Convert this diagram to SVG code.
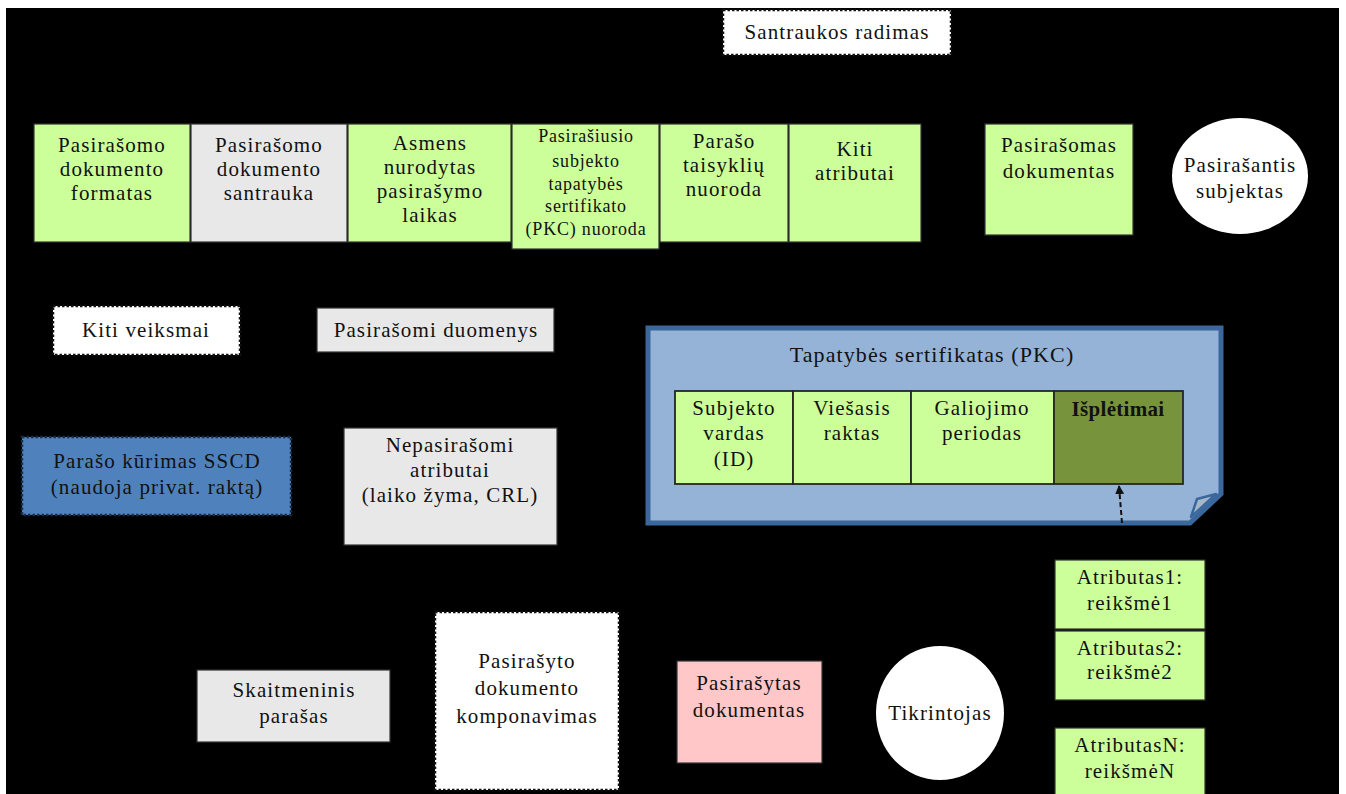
<svg xmlns="http://www.w3.org/2000/svg" width="1346" height="794" viewBox="0 0 1346 794">
  <style>
    text { font-family: "Liberation Serif", "Times New Roman", serif; font-size: 21px; fill: #111; text-anchor: middle; letter-spacing: 1.1px; }
    .small { font-size: 18px; letter-spacing: 0.8px; }
    .bold { font-weight: bold; letter-spacing: 0.3px; }
    .box { stroke: #333; stroke-width: 1.2; }
    .green { fill: #ccff99; }
    .grey { fill: #e8e8e8; }
    .pink { fill: #ffc7c7; }
    .dash { fill: #ffffff; stroke: #111; stroke-width: 2.5; stroke-dasharray: 2.5 2; }
    .ell { fill: #ffffff; }
    .cell { stroke: #262626; stroke-width: 1.8; }
  </style>
  <defs>
    <marker id="arrow" viewBox="0 0 10 10" refX="9" refY="5" markerWidth="4.5" markerHeight="4.5" orient="auto">
      <path d="M0,0 L10,5 L0,10 Z" fill="#111"/>
    </marker>
  </defs>

  <!-- canvas -->
  <rect x="0" y="0" width="1346" height="794" fill="#ffffff"/>
  <rect x="6" y="8" width="1333" height="786" fill="#000000"/>

  <g id="santraukos-radimas">
    <rect class="dash" x="723" y="10" width="228" height="45"/>
    <text x="837" y="39">Santraukos radimas</text>
  </g>

  <g id="dok-formatas">
    <rect class="box green" x="34" y="124" width="156" height="118"/>
    <text x="112" y="152">Pasirašomo</text>
    <text x="112" y="176">dokumento</text>
    <text x="112" y="200">formatas</text>
  </g>
  <g id="dok-santrauka">
    <rect class="box grey" x="191" y="124" width="156" height="118"/>
    <text x="269" y="152">Pasirašomo</text>
    <text x="269" y="176">dokumento</text>
    <text x="269" y="200">santrauka</text>
  </g>
  <g id="pasirasymo-laikas">
    <rect class="box green" x="348" y="124" width="163" height="118"/>
    <text x="430" y="150">Asmens</text>
    <text x="430" y="174">nurodytas</text>
    <text x="430" y="198">pasirašymo</text>
    <text x="430" y="222">laikas</text>
  </g>
  <g id="pkc-nuoroda">
    <rect class="box green" x="512" y="124" width="147" height="125"/>
    <text class="small" x="586" y="142">Pasirašiusio</text>
    <text class="small" x="586" y="167">subjekto</text>
    <text class="small" x="586" y="190">tapatybės</text>
    <text class="small" x="586" y="212">sertifikato</text>
    <text class="small" x="586" y="235">(PKC) nuoroda</text>
  </g>
  <g id="taisykliu-nuoroda">
    <rect class="box green" x="660" y="124" width="128" height="118"/>
    <text x="724" y="148">Parašo</text>
    <text x="724" y="172">taisyklių</text>
    <text x="724" y="196">nuoroda</text>
  </g>
  <g id="kiti-atributai">
    <rect class="box green" x="789" y="124" width="132" height="118"/>
    <text x="855" y="156">Kiti</text>
    <text x="855" y="180">atributai</text>
  </g>

  <g id="pasirasomas-dokumentas">
    <rect class="box green" x="985" y="124" width="148" height="111"/>
    <text x="1059" y="152">Pasirašomas</text>
    <text x="1059" y="178">dokumentas</text>
  </g>
  <g id="pasirasantis-subjektas">
    <ellipse class="ell" cx="1240" cy="176" rx="68" ry="58"/>
    <text x="1240" y="172">Pasirašantis</text>
    <text x="1240" y="198">subjektas</text>
  </g>

  <g id="kiti-veiksmai">
    <rect class="dash" x="53" y="306" width="187" height="49"/>
    <text x="146" y="337">Kiti veiksmai</text>
  </g>
  <g id="pasirasomi-duomenys">
    <rect class="box grey" x="317" y="308" width="237" height="44"/>
    <text x="436" y="337">Pasirašomi duomenys</text>
  </g>

  <g id="sscd">
    <rect x="22" y="437" width="269" height="78" fill="#4f81bd" stroke="#1a2d45" stroke-width="2.5" stroke-dasharray="2.5 2"/>
    <text x="157" y="468">Parašo kūrimas SSCD</text>
    <text x="157" y="494">(naudoja privat. raktą)</text>
  </g>
  <g id="nepasirasomi-atributai">
    <rect class="box grey" x="344" y="428" width="213" height="117"/>
    <text x="450" y="452">Nepasirašomi</text>
    <text x="450" y="477">atributai</text>
    <text x="450" y="502">(laiko žyma, CRL)</text>
  </g>

  <g id="pkc">
    <path d="M648,328 H1221 V494 L1190,523 H648 Z" fill="#95b3d7" stroke="#3a679c" stroke-width="5" stroke-linejoin="miter"/>
    <path d="M1191,517 L1197,499 L1216,494 Z" fill="#a7b7cb" stroke="#3a679c" stroke-width="2.5" stroke-linejoin="round"/>
    <text x="932" y="362" style="font-size:22px">Tapatybės sertifikatas (PKC)</text>
    <rect class="cell green" x="675" y="391" width="118" height="93"/>
    <rect class="cell green" x="793" y="391" width="118" height="93"/>
    <rect class="cell green" x="911" y="391" width="143" height="93"/>
    <rect class="cell" x="1054" y="391" width="129" height="93" fill="#77933c"/>
    <text x="734" y="415">Subjekto</text>
    <text x="734" y="440">vardas</text>
    <text x="734" y="466">(ID)</text>
    <text x="852" y="415">Viešasis</text>
    <text x="852" y="440">raktas</text>
    <text x="982" y="415">Galiojimo</text>
    <text x="982" y="440">periodas</text>
    <text class="bold" x="1118" y="416">Išplėtimai</text>
  </g>

  <g id="atributas1">
    <rect class="box green" x="1055" y="560" width="150" height="69"/>
    <text x="1130" y="584">Atributas1:</text>
    <text x="1130" y="610">reikšmė1</text>
  </g>
  <g id="atributas2">
    <rect class="box green" x="1055" y="631" width="150" height="69"/>
    <text x="1130" y="655">Atributas2:</text>
    <text x="1130" y="679">reikšmė2</text>
  </g>
  <g id="atributasN">
    <rect class="box green" x="1055" y="728" width="150" height="70"/>
    <text x="1130" y="752">AtributasN:</text>
    <text x="1130" y="778">reikšmėN</text>
  </g>

  <g id="skaitmeninis-parasas">
    <rect class="box grey" x="197" y="670" width="193" height="72"/>
    <text x="294" y="697">Skaitmeninis</text>
    <text x="294" y="723">parašas</text>
  </g>
  <g id="komponavimas">
    <rect class="dash" x="435" y="612" width="184" height="178"/>
    <text x="527" y="668">Pasirašyto</text>
    <text x="527" y="695">dokumento</text>
    <text x="527" y="723">komponavimas</text>
  </g>
  <g id="pasirasytas-dokumentas">
    <rect class="box pink" x="677" y="661" width="145" height="102"/>
    <text x="749" y="690">Pasirašytas</text>
    <text x="749" y="717">dokumentas</text>
  </g>
  <g id="tikrintojas">
    <ellipse class="ell" cx="940" cy="713" rx="64" ry="67"/>
    <text x="940" y="720">Tikrintojas</text>
  </g>

  <g id="connectors">
    <line x1="1122" y1="523" x2="1119" y2="486" stroke="#111" stroke-width="2" stroke-dasharray="5 3" marker-end="url(#arrow)"/>
  </g>
</svg>
